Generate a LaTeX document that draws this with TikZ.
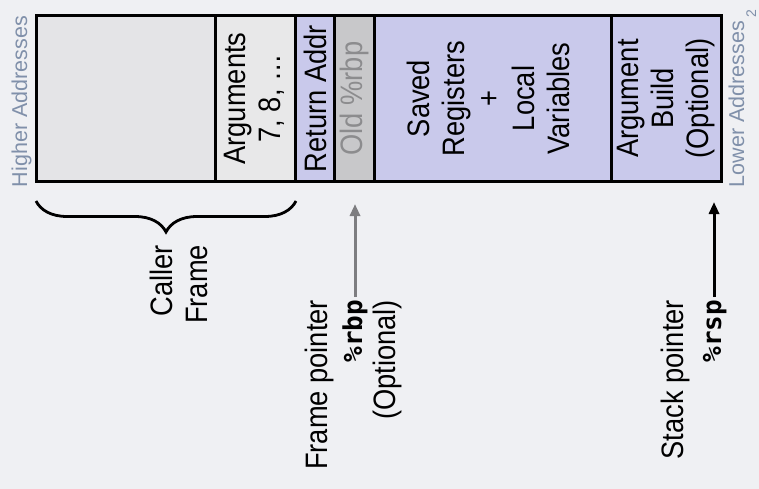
\documentclass[tikz,border=0pt]{standalone}
\usepackage{fontspec}
\setmainfont{Liberation Sans}
\newfontfamily\codefont{DejaVu Sans Mono}
\usetikzlibrary{arrows.meta,decorations.pathreplacing}
\definecolor{bg}{RGB}{239,240,243}
\definecolor{addr}{RGB}{128,144,170}
\definecolor{lav}{RGB}{201,201,235}
\definecolor{callerfill}{RGB}{228,228,231}
\definecolor{argfill}{RGB}{232,232,233}
\definecolor{oldfill}{RGB}{200,200,202}
\definecolor{oldtext}{RGB}{140,140,142}
\definecolor{fpgray}{RGB}{125,125,128}
\newcommand{\sqtxt}[1]{\scalebox{0.88}[1]{\begin{tabular}{@{}c@{}}#1\end{tabular}}}
\newcommand{\sqtxtr}[1]{\scalebox{0.88}[1]{\begin{tabular}{@{}r@{}}#1\end{tabular}}}
\newcommand{\sqone}[1]{\scalebox{0.88}[1]{#1}}
\begin{document}
\begin{tikzpicture}[x=1pt,y=-1pt,
  cell/.style={draw=black, line width=3pt, rotate=90, minimum width=165pt,
    inner sep=0pt, outer sep=0pt, align=center,
    font=\fontsize{31}{35}\selectfont},
  lbl/.style={rotate=90, inner sep=0pt, outer sep=0pt,
    font=\fontsize{31}{35}\selectfont},
  addrlbl/.style={rotate=90, inner sep=0pt, outer sep=0pt, text=addr,
    font=\fontsize{21.5}{25}\selectfont},
  ptrarrow/.style={line width=3pt, -{Triangle[width=10pt,length=12pt]}}
]
\fill[bg] (0,0) rectangle (759,489);
\useasboundingbox (0,0) rectangle (759,489);

% stack cells
\node[cell, fill=callerfill, minimum height=179.5pt] (caller) at (125.75,98.5) {};
\node[cell, fill=argfill, minimum height=80pt] (args) at (255.5,98.5) {\sqtxt{Arguments\\7, 8, …}};
\node[cell, fill=lav, minimum height=39pt] (ret) at (315,98.5) {\sqone{Return Addr}};
\node[cell, fill=oldfill, minimum height=40pt, text=oldtext] (old) at (354.5,98.5) {\sqone{Old \%rbp}};
\node[cell, fill=lav, minimum height=236.5pt] (saved) at (492.75,98.5) {\sqtxt{Saved\\Registers\\+\\Local\\Variables}};
\node[cell, fill=lav, minimum height=110pt] (build) at (666,98.5) {\sqtxt{Argument\\Build\\(Optional)}};

% address labels
\node[addrlbl, anchor=base west] (higher) at (27,187) {Higher Addresses};
\node[addrlbl, anchor=base west] (lower) at (744,187) {Lower Addresses};
\node[rotate=90, inner sep=0pt, text=addr, font=\fontsize{14}{16}\selectfont, anchor=base east] (pagenum) at (756,10) {2};

% caller frame brace
\coordinate (braceR) at (296,201);
\coordinate (braceL) at (36,201);
\draw[line width=2.8pt, decorate,
  decoration={brace, amplitude=31pt, aspect=0.5}] (braceR) -- (braceL);
\node[lbl, anchor=east] (callerlbl) at (183,245) {\sqtxtr{Caller\\Frame}};

% frame pointer
\node[lbl, anchor=base east] (fp) at (327,300) {\sqone{Frame pointer}};
\node[lbl, anchor=base east, font=\codefont\bfseries\fontsize{26}{30}\selectfont] (rbp) at (362,300) {\%rbp};
\node[lbl, anchor=base east] (fpopt) at (395,300) {\sqone{(Optional)}};
\coordinate (rbptip) at (355,204);
\draw[ptrarrow, draw=fpgray, fill=fpgray, shorten <=3pt] (rbp.east -| rbptip) -- (rbptip);

% stack pointer
\node[lbl, anchor=base east] (sp) at (683,300) {\sqone{Stack pointer}};
\node[lbl, anchor=base east, font=\codefont\bfseries\fontsize{26}{30}\selectfont] (rsp) at (721,300) {\%rsp};
\coordinate (rsptip) at (714,202);
\draw[ptrarrow, draw=black, fill=black, shorten <=3pt] (rsp.east -| rsptip) -- (rsptip);
\end{tikzpicture}
\end{document}
